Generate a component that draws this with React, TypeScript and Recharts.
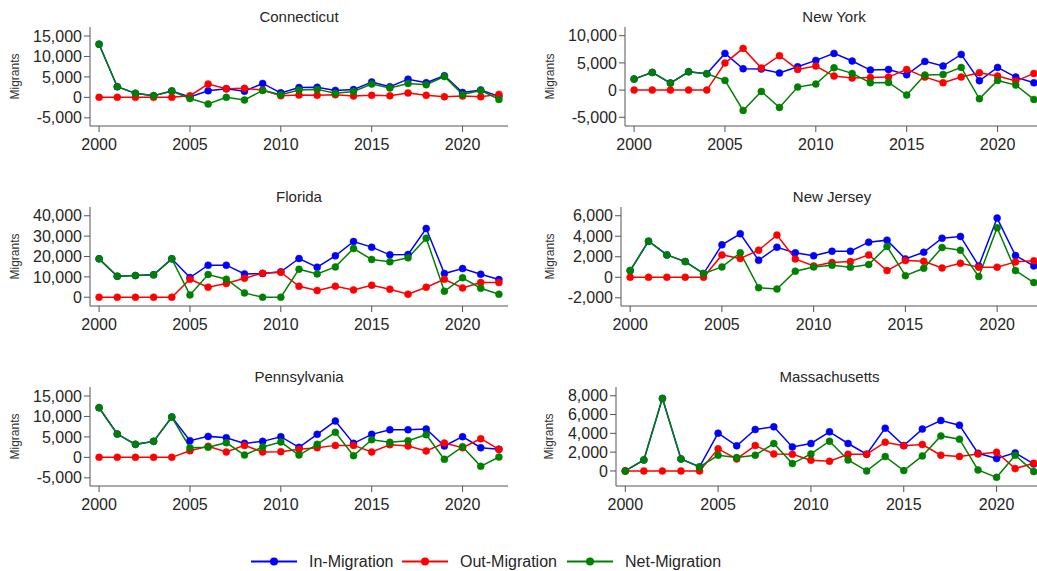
import { Line, LineChart, XAxis, YAxis } from "recharts";

const years = [
  2000, 2001, 2002, 2003, 2004, 2005, 2006, 2007, 2008, 2009, 2010, 2011,
  2012, 2013, 2014, 2015, 2016, 2017, 2018, 2019, 2020, 2021, 2022,
];
const yearTicks = [2000, 2005, 2010, 2015, 2020];

// Connecticut
const ctIn = [13000, 2600, 980, 400, 1550, 100, 1620, 2100, 1500, 3400, 1100, 2400, 2450, 1700, 1900, 3750, 2600, 4450, 3600, 5300, 1200, 1800, 250];
const ctOut = [0, 0, 0, 0, 0, 400, 3250, 2100, 2200, 1800, 400, 570, 490, 650, 330, 490, 400, 1060, 490, 160, 330, 160, 730];
const ctNet = [13000, 2600, 980, 400, 1550, -300, -1630, 0, -650, 1700, 650, 1800, 1950, 1000, 1450, 3250, 2300, 3400, 3100, 5100, 730, 1700, -500];

// New York
const nyIn = [2020, 3250, 1290, 3370, 3000, 6750, 3930, 3870, 3130, 4290, 5460, 6750, 5340, 3680, 3800, 2820, 5280, 4420, 6560, 1720, 4170, 2390, 1350];
const nyOut = [0, 0, 0, 0, 0, 4970, 7670, 4050, 6320, 3800, 4420, 2580, 2210, 2330, 2390, 3800, 2390, 1350, 2390, 3190, 2580, 1660, 3070];
const nyNet = [2020, 3250, 1290, 3370, 3000, 1780, -3740, -250, -3190, 550, 1100, 4110, 3070, 1350, 1410, -920, 2760, 2880, 4170, -1600, 1780, 920, -1720];

// Florida
const flIn = [18850, 10330, 10650, 10980, 18850, 9670, 15730, 15730, 11470, 11640, 12460, 19010, 14750, 20320, 27370, 24590, 20820, 20980, 33760, 11640, 14100, 11310, 8690];
const flOut = [0, 0, 0, 0, 0, 8850, 4920, 6720, 9340, 11800, 12290, 5410, 3280, 5410, 3610, 5900, 3930, 1480, 4920, 8850, 4590, 7210, 7210];
const flNet = [18850, 10330, 10650, 10980, 18850, 1150, 11150, 8850, 2130, 0, 0, 13770, 11470, 14900, 23930, 18520, 17370, 19340, 29000, 2950, 9510, 4430, 1480];

// New Jersey
const njIn = [650, 3520, 2180, 1530, 360, 3160, 4240, 1660, 2930, 2380, 2090, 2540, 2540, 3420, 3620, 1790, 2440, 3810, 3980, 1110, 5770, 2120, 1110];
const njOut = [0, 0, 0, 0, 0, 2180, 1830, 2640, 4110, 1790, 1110, 1430, 1530, 2180, 650, 1630, 1560, 910, 1370, 980, 980, 1500, 1600];
const njNet = [650, 3520, 2180, 1530, 360, 1010, 2380, -1010, -1140, 590, 1010, 1170, 980, 1240, 3000, 160, 880, 2900, 2640, 70, 4820, 650, -520];

// Pennsylvania
const paIn = [12140, 5700, 3180, 3910, 9860, 4080, 5130, 4810, 3420, 3910, 5050, 2450, 5620, 8880, 3420, 5620, 6760, 6760, 6930, 2770, 5050, 2360, 1960];
const paOut = [0, 0, 0, 0, 0, 1630, 2690, 1300, 2930, 1300, 1390, 1960, 2360, 2930, 2930, 1300, 3100, 2770, 1550, 3500, 2360, 4560, 1960];
const paNet = [12140, 5700, 3180, 3910, 9860, 2360, 2450, 3590, 570, 2530, 3750, 570, 3180, 6110, 410, 4320, 3670, 4080, 5540, -490, 2610, -2200, 80];

// Massachusetts
const maIn = [0, 1170, 7720, 1280, 430, 4020, 2670, 4410, 4690, 2560, 2920, 4160, 2920, 1780, 4550, 2700, 4450, 5370, 4870, 1880, 1320, 1920, 750];
const maOut = [0, 0, 0, 0, 0, 2350, 1280, 2700, 1810, 1780, 1140, 1030, 1780, 1780, 3060, 2670, 2810, 1670, 1530, 1810, 1990, 250, 820];
const maNet = [0, 1170, 7720, 1280, 430, 1670, 1420, 1670, 2920, 780, 1810, 3160, 1170, 0, 1530, 40, 1600, 3730, 3380, 110, -680, 1670, -70];

const IN_COLOR = "#0000ff";
const OUT_COLOR = "#ff0000";
const NET_COLOR = "#008000";
const FONT = "'Liberation Sans', Arial, sans-serif";

type Panel = {
  title: string;
  inflow: number[];
  outflow: number[];
  net: number[];
  domain: [number, number];
  ticks: number[];
  col: number;
  row: number;
  axisWidth: number;
  labelX: number;
};

const panels: Panel[] = [
  { title: "Connecticut", inflow: ctIn, outflow: ctOut, net: ctNet, domain: [-7000, 17200], ticks: [-5000, 0, 5000, 10000, 15000], col: 0, row: 0, axisWidth: 90, labelX: 15 },
  { title: "New York", inflow: nyIn, outflow: nyOut, net: nyNet, domain: [-6600, 11600], ticks: [-5000, 0, 5000, 10000], col: 1, row: 0, axisWidth: 108, labelX: 33 },
  { title: "Florida", inflow: flIn, outflow: flOut, net: flNet, domain: [-4300, 44300], ticks: [0, 10000, 20000, 30000, 40000], col: 0, row: 1, axisWidth: 90, labelX: 15 },
  { title: "New Jersey", inflow: njIn, outflow: njOut, net: njNet, domain: [-2800, 6850], ticks: [-2000, 0, 2000, 4000, 6000], col: 1, row: 1, axisWidth: 104, labelX: 33 },
  { title: "Pennsylvania", inflow: paIn, outflow: paOut, net: paNet, domain: [-7000, 17200], ticks: [-5000, 0, 5000, 10000, 15000], col: 0, row: 2, axisWidth: 90, labelX: 15 },
  { title: "Massachusetts", inflow: maIn, outflow: maOut, net: maNet, domain: [-1600, 8930], ticks: [0, 2000, 4000, 6000, 8000], col: 1, row: 2, axisWidth: 99, labelX: 32 },
];

const PANEL_H = 180;
const PLOT_TOP = 27;
const PLOT_BOTTOM = 126;

const fmt = (v: number) => v.toLocaleString("en-US");

function MigrantsLabel({ x0 }: { x0: number }) {
  const cy = (PLOT_TOP + PLOT_BOTTOM) / 2;
  return (
    <text
      x={x0}
      y={cy}
      transform={`rotate(-90 ${x0} ${cy})`}
      textAnchor="middle"
      dominantBaseline="central"
      fontSize={12}
      fontFamily={FONT}
      fill="#333"
    >
      Migrants
    </text>
  );
}

function StatePanel({ p }: { p: Panel }) {
  const data = years.map((year, i) => ({
    year,
    inflow: p.inflow[i],
    outflow: p.outflow[i],
    net: p.net[i],
  }));
  const left = p.col === 0 ? 0 : 517;
  const width = p.col === 0 ? 517 : 540;
  const rightMargin = p.col === 0 ? 9 : 14;
  const plotLeft = p.axisWidth;
  const plotRight = width - rightMargin;
  const tickStyle = { fontSize: 16, fontFamily: FONT, fill: "#262626" };

  return (
    <div style={{ position: "absolute", left, top: p.row * PANEL_H, width, height: PANEL_H }}>
      <div
        style={{
          position: "absolute",
          left: plotLeft,
          width: plotRight - plotLeft,
          top: 8,
          height: 18,
          lineHeight: "18px",
          textAlign: "center",
          fontSize: 15,
          fontFamily: FONT,
          color: "#262626",
        }}
      >
        {p.title}
      </div>
      <LineChart
        width={width}
        height={PANEL_H}
        data={data}
        margin={{ top: PLOT_TOP, right: rightMargin, bottom: 24, left: 0 }}
      >
        <XAxis
          dataKey="year"
          type="number"
          domain={[1999.5, 2022.5]}
          ticks={yearTicks}
          interval={0}
          allowDataOverflow
          height={30}
          tickSize={6}
          tickMargin={7}
          stroke="#555"
          tick={tickStyle}
        />
        <YAxis
          type="number"
          domain={p.domain}
          ticks={p.ticks}
          interval={0}
          allowDataOverflow
          width={p.axisWidth}
          tickSize={6}
          tickMargin={2}
          tickFormatter={fmt}
          stroke="#555"
          tick={tickStyle}
          label={<MigrantsLabel x0={p.labelX} />}
        />
        <Line
          type="linear"
          dataKey="inflow"
          stroke={IN_COLOR}
          strokeWidth={1.5}
          dot={{ r: 3.5, fill: IN_COLOR, stroke: IN_COLOR, strokeWidth: 0.5 }}
          activeDot={false}
          isAnimationActive={false}
        />
        <Line
          type="linear"
          dataKey="outflow"
          stroke={OUT_COLOR}
          strokeWidth={1.5}
          dot={{ r: 3.5, fill: OUT_COLOR, stroke: OUT_COLOR, strokeWidth: 0.5 }}
          activeDot={false}
          isAnimationActive={false}
        />
        <Line
          type="linear"
          dataKey="net"
          stroke={NET_COLOR}
          strokeWidth={1.5}
          dot={{ r: 3.5, fill: NET_COLOR, stroke: NET_COLOR, strokeWidth: 0.5 }}
          activeDot={false}
          isAnimationActive={false}
        />
      </LineChart>
    </div>
  );
}

const legendItems = [
  { label: "In-Migration", color: IN_COLOR, x: 251 },
  { label: "Out-Migration", color: OUT_COLOR, x: 402 },
  { label: "Net-Migration", color: NET_COLOR, x: 567 },
];

function Legend() {
  const cy = 14.5;
  return (
    <svg width={1037} height={30} style={{ position: "absolute", left: 0, top: 547 }}>
      {legendItems.map((it) => (
        <g key={it.label}>
          <line x1={it.x} x2={it.x + 46} y1={cy} y2={cy} stroke={it.color} strokeWidth={1.8} />
          <circle cx={it.x + 23} cy={cy} r={4} fill={it.color} />
          <text x={it.x + 58} y={cy + 5.8} fontSize={16} fontFamily={FONT} fill="#262626">
            {it.label}
          </text>
        </g>
      ))}
    </svg>
  );
}

export default function App() {
  return (
    <div
      style={{
        position: "absolute",
        left: 0,
        top: 0,
        width: 1037,
        height: 571,
        overflow: "hidden",
        background: "#fff",
      }}
    >
      {panels.map((p) => (
        <StatePanel key={p.title} p={p} />
      ))}
      <Legend />
    </div>
  );
}
